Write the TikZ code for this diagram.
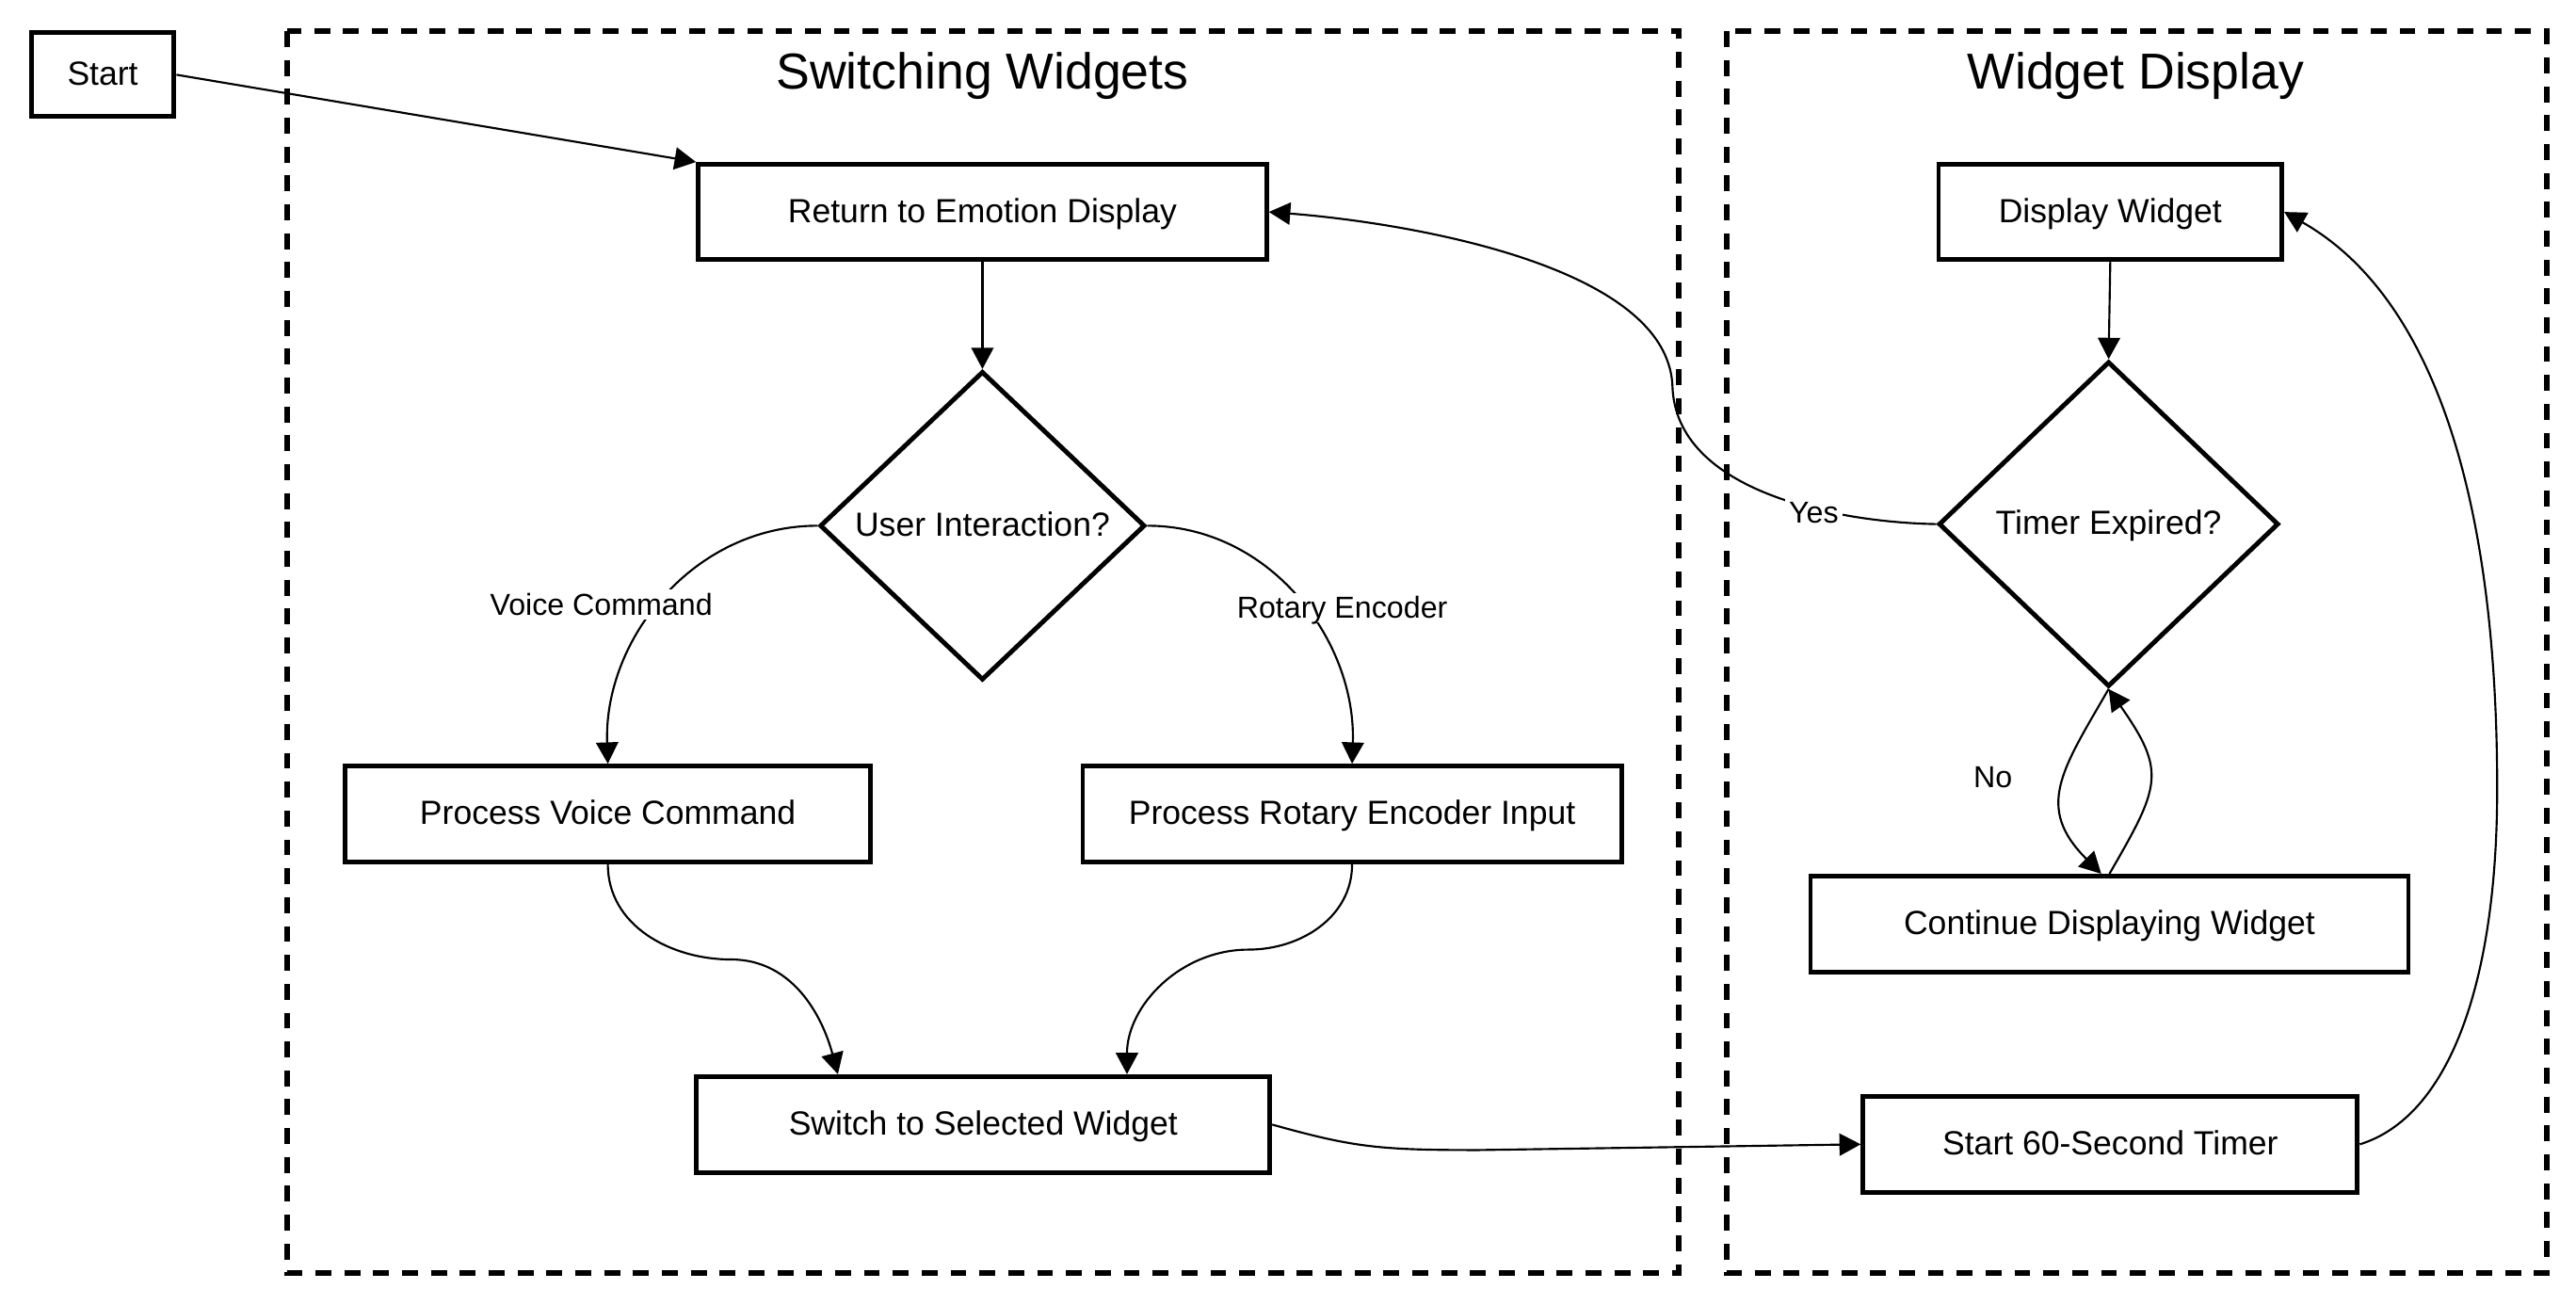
\documentclass[tikz,border=0pt]{standalone}
\usepackage{fontspec}
\setmainfont{Liberation Sans}
\usetikzlibrary{shapes.geometric,arrows.meta}
\begin{document}
\begin{tikzpicture}[x=0.02cm,y=0.02cm,
  box/.style={draw,line width=1.6pt,minimum height=1.17cm,inner sep=2pt,text height=0.72em,text depth=0pt,font=\fontsize{11.6}{14}\selectfont},
  dec/.style={draw,diamond,line width=1.6pt,inner sep=0pt,text height=0.72em,text depth=0pt,font=\fontsize{11.6}{14}\selectfont},
  lane/.style={draw,line width=1.9pt,dash pattern=on 5.5pt off 4.5pt},
  ttl/.style={text height=0.72em,text depth=0pt,font=\fontsize{17.5}{21}\selectfont},
  lbl/.style={fill=white,inner sep=1.5pt,text height=0.72em,text depth=0pt,font=\fontsize{10.5}{12}\selectfont},
  arr/.style={line width=0.7pt,-{Triangle[length=0.26cm,width=0.27cm]}},
  con/.style={line width=0.7pt}]
\useasboundingbox (0,0) rectangle (1568,-794);
% lanes
\draw[lane] (175,-19) rectangle (1022,-775);
\draw[lane] (1051,-19) rectangle (1550,-775);
\node[ttl] (t1) at (598,-48) {Switching Widgets};
\node[ttl] (t2) at (1300,-48) {Widget Display};
% nodes
\node[box,minimum width=1.74cm,minimum height=1.02cm] (start) at (62.5,-45.5) {Start};
\node[box,minimum width=6.92cm,minimum height=1.16cm] (ret) at (598,-129) {Return to Emotion Display};
\node[dec,minimum width=3.96cm,minimum height=3.76cm] (ui) at (598,-320) {User Interaction?};
\node[box,minimum width=6.4cm] (pvc) at (370,-495.5) {Process Voice Command};
\node[box,minimum width=6.56cm] (pre) at (823,-495.5) {Process Rotary Encoder Input};
\node[box,minimum width=6.98cm] (sw) at (598.5,-684.5) {Switch to Selected Widget};
\node[box,minimum width=4.18cm,minimum height=1.16cm] (dw) at (1284.5,-129) {Display Widget};
\node[dec,minimum width=4.14cm,minimum height=3.96cm] (te) at (1283.5,-319) {Timer Expired?};
\node[box,minimum width=7.28cm] (cdw) at (1284,-562.5) {Continue Displaying Widget};
\node[box,minimum width=6.02cm] (st) at (1284.5,-696.5) {Start 60-Second Timer};
% connectors
\draw[arr] (start.east) -- (ret.north west);
\draw[arr] (ret.south) -- (ui.north);
\draw[arr] (ui.west) to[out=180,in=92] (pvc.north);
\draw[arr] (ui.east) to[out=0,in=88] (pre.north);
\draw[arr] (pvc.south) to[out=-90,in=180] (445,-584) to[out=0,in=105] ([xshift=-1.77cm]sw.north);
\draw[arr] (pre.south) to[out=-90,in=0] (760,-578) to[out=180,in=90] ([xshift=1.75cm]sw.north);
\draw[arr] (sw.east) .. controls +(50,-14) and +(-60,0) .. (900,-700) -- (st.west);
\draw[arr] (st.east) .. controls (1490,-680) and (1520,-600) .. (1520,-480) .. controls (1520,-300) and (1480,-180) .. (dw.east);
\draw[arr] (dw.south) -- (te.north);
\draw[arr] (te.west) .. controls (1120,-318) and (1020,-300) .. (1018,-235) .. controls (1015,-160) and (850,-135) .. (ret.east);
\draw[arr] (te.south) to[out=-120,in=135,looseness=1.3] ([xshift=-0.1cm]cdw.north);
\draw[arr] (cdw.north) to[out=60,in=-55,looseness=1.4] (te.south);
% labels
\node[lbl] (lvc) at (366,-368) {Voice Command};
\node[lbl] (lre) at (817,-370) {Rotary Encoder};
\node[lbl] (lyes) at (1104,-312) {Yes};
\node[lbl,fill=none] (lno) at (1213,-473) {No};
\end{tikzpicture}
\end{document}
